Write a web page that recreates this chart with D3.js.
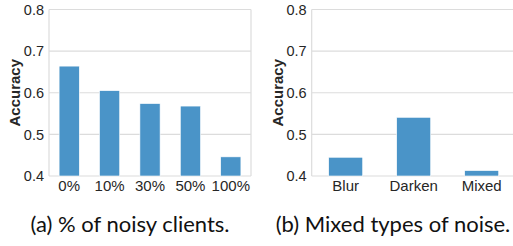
<!DOCTYPE html>
<html><head><meta charset="utf-8">
<script src="https://cdn.jsdelivr.net/npm/d3@7"></script>
<style>body{margin:0;background:#fff}svg{display:block}</style>
</head><body>
<svg id="c" width="513" height="246"></svg>
<script>
const catsA = ["0%","10%","30%","50%","100%"];
const valsA = [0.664, 0.605, 0.574, 0.568, 0.446];
const catsB = ["Blur","Darken","Mixed"];
const valsB = [0.445, 0.541, 0.413];
const yTicks = [0.4,0.5,0.6,0.7,0.8];
const yLabel = "Accuracy";
const captions = ["(a) % of noisy clients.","(b) Mixed types of noise."];

const svg = d3.select("#c");
const barColor = "#4a94c8", grid = "#dcdcdc";
const plotTop = 9.5, plotBottom = 176;
const sans = "'Liberation Sans', Arial, sans-serif";

function panel(cats, vals, x0, x1, labelX, caption, capX, showRight){
  const g = svg.append("g");
  const y = d3.scaleLinear().domain([0.4,0.8]).range([plotBottom, plotTop]);
  const x = d3.scaleBand().domain(cats).range([x0,x1]).paddingInner(0.5).paddingOuter(0.25);
  g.selectAll(".gl").data(yTicks).join("line")
    .attr("x1",x0).attr("x2",x1).attr("y1",d=>y(d)).attr("y2",d=>y(d))
    .attr("stroke",grid).attr("stroke-width",1.2);
  g.append("line").attr("x1",x0).attr("x2",x0).attr("y1",plotTop).attr("y2",plotBottom).attr("stroke",grid).attr("stroke-width",1.2);
  if(showRight) g.append("line").attr("x1",x1).attr("x2",x1).attr("y1",plotTop).attr("y2",plotBottom).attr("stroke",grid).attr("stroke-width",1.2);
  g.selectAll(".b").data(vals).join("rect")
    .attr("x",(d,i)=>x(cats[i])).attr("width",x.bandwidth())
    .attr("y",d=>y(d)).attr("height",d=>y(0.4)-y(d))
    .attr("fill",barColor).attr("stroke","#fff").attr("stroke-width",0.6);
  const ya = d3.axisLeft(y).tickValues(yTicks).tickFormat(d3.format(".1f")).tickSize(0).tickPadding(5);
  const yg = g.append("g").attr("transform",`translate(${x0},0)`).call(ya);
  yg.select(".domain").remove();
  yg.attr("font-family",null).attr("font-size",null);
  yg.selectAll("text").style("font-family",sans).style("font-size","14.5px").attr("fill","#262626");
  const xa = d3.axisBottom(x).tickSize(0).tickPadding(4);
  const xg = g.append("g").attr("transform",`translate(0,${plotBottom})`).call(xa);
  xg.select(".domain").remove();
  xg.attr("font-family",null).attr("font-size",null);
  xg.selectAll("text").style("font-family",sans).style("font-size","15px").attr("fill","#262626");
  g.append("text").attr("transform",`translate(${labelX},${(plotTop+plotBottom)/2}) rotate(-90)`)
    .attr("text-anchor","middle").attr("dy","0.35em")
    .style("font-family",sans).style("font-weight","bold").style("font-size","15px")
    .attr("fill","#262626").text(yLabel);
  svg.append("text").attr("x",capX).attr("y",231.5).attr("text-anchor","middle")
    .style("font-family","Lato, sans-serif").style("font-size","22px").attr("fill","#111").text(caption);
}
panel(catsA, valsA, 49, 251, 15, captions[0], 130, true);
panel(catsB, valsB, 311.7, 515.7, 278, captions[1], 393, false);
</script>
</body></html>
